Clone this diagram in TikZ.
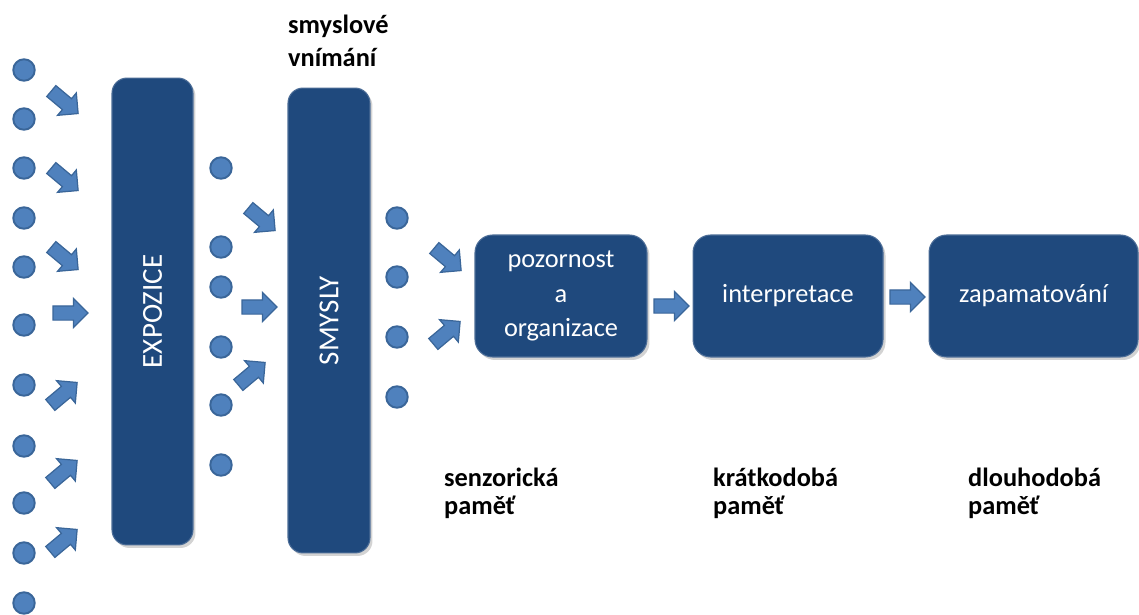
\documentclass[tikz,border=0pt]{standalone}
\usepackage{fontspec}
\setmainfont{Carlito}
\usepackage{tikz}
\usetikzlibrary{positioning,shapes.arrows,shadows}
\usepackage{xcolor}
\definecolor{boxblue}{HTML}{1F497D}
\definecolor{dotblue}{HTML}{4F81BD}
\definecolor{dotline}{HTML}{3A6699}

\begin{document}
\begin{tikzpicture}[x=0.02cm, y=-0.02cm, node distance = 0.9cm,
	blok/.style={rectangle, rounded corners=0.3cm, fill=boxblue, draw=boxblue!80!white, line width=0.6pt, text=white,
		drop shadow={shadow xshift=0.05cm, shadow yshift=-0.06cm, opacity=0.35}},
	tall/.style={blok, font=\fontsize{16.5}{20}\selectfont},
	stage/.style={blok, rounded corners=0.35cm, minimum height=2.44cm, align=center, font=\fontsize{15}{19.5}\selectfont},
	bod/.style={circle, fill=dotblue, draw=dotline, line width=1.1pt, minimum size=0.43cm, inner sep=0pt},
	sip/.style={single arrow, fill=dotblue, draw=dotline, line width=0.7pt, minimum height=0.7cm,
		inner xsep=0pt, inner ysep=0.13cm, single arrow head extend=0.15cm},
	lbl/.style={anchor=base west, align=left, font=\bfseries\fontsize{15}{15.6}\selectfont}]
	\useasboundingbox (0,0) rectangle (1139,615);
	
	\node[tall, minimum width=1.62cm, minimum height=9.34cm] (exp) at (152.5,311.5) {\rotatebox{90}{EXPOZICE}};
	\node[tall, minimum width=1.64cm, minimum height=9.3cm] (sm) at (329,320.5) {\rotatebox{90}{SMYSLY}};
	
	\node[stage, minimum width=3.44cm] (poz) at (561,296) {pozornost\\a\\organizace};
	\node[stage, minimum width=3.8cm, right=of poz] (int) {interpretace};
	\node[stage, minimum width=4.18cm, right=of int] (zap) {zapamatování};
	
	% podněty pred expozici
	\node[bod] (p1) at (24,70) {};
	\node[bod] (p2) at (24,119) {};
	\node[bod] (p3) at (24,168) {};
	\node[bod] (p4) at (24,218) {};
	\node[bod] (p5) at (24,267) {};
	\node[bod] (p6) at (24,325) {};
	\node[bod] (p7) at (24,385) {};
	\node[bod] (p8) at (24,446) {};
	\node[bod] (p9) at (24,503) {};
	\node[bod] (p10) at (24,553) {};
	\node[bod] (p11) at (24,603) {};
	
	\node[sip, rotate=-40] (a1) at (62,100) {};
	\node[sip, rotate=-40] (a2) at (62,177) {};
	\node[sip, rotate=-40] (a3) at (62,256) {};
	\node[sip] (a4) at (67,313) {};
	\node[sip, rotate=40] (a5) at (61,396) {};
	\node[sip, rotate=40] (a6) at (61,474) {};
	\node[sip, rotate=40] (a7) at (61,543) {};
	
	% po expozici
	\node[bod] (q1) at (221,168) {};
	\node[bod] (q2) at (221,247) {};
	\node[bod] (q3) at (221,287) {};
	\node[bod] (q4) at (221,347) {};
	\node[bod] (q5) at (221,405) {};
	\node[bod] (q6) at (221,465) {};
	
	\node[sip, rotate=-40] (b1) at (259,217) {};
	\node[sip] (b2) at (256,307) {};
	\node[sip, rotate=40] (b3) at (249,376) {};
	
	% po smyslech
	\node[bod] (r1) at (397,218) {};
	\node[bod] (r2) at (397,277) {};
	\node[bod] (r3) at (397,337) {};
	\node[bod] (r4) at (397,397) {};
	
	\node[sip, rotate=-40] (c1) at (445,257) {};
	\node[sip, rotate=40] (c2) at (444,335) {};
	
	\node[sip] (d1) at (668,306) {};
	\node[sip] (d2) at (904,297) {};
	
	
	\node[lbl, font=\bfseries\fontsize{15}{18.9}\selectfont] (sv) at (282,67) {smyslové\\vnímání};
	\node[lbl] (sp) at (438,514) {senzorická\\paměť};
	\node[lbl] (kp) at (707,514) {krátkodobá\\paměť};
	\node[lbl] (dp) at (962,514) {dlouhodobá\\paměť};
	
\end{tikzpicture}
\end{document}
